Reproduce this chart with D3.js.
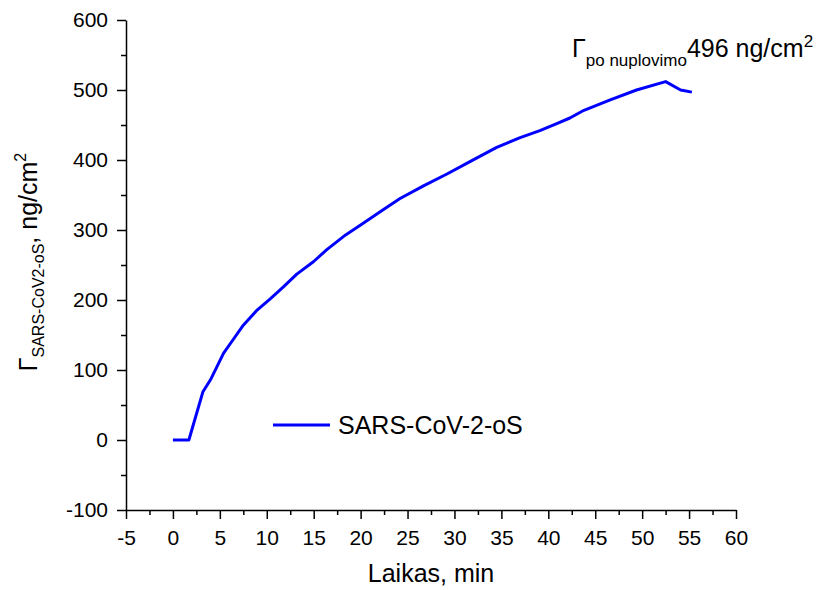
<!DOCTYPE html>
<html>
<head>
<meta charset="utf-8">
<script src="https://cdn.jsdelivr.net/npm/d3@7/dist/d3.min.js"></script>
<style>
  html, body { margin: 0; padding: 0; background: #fff; }
  svg { display: block; }
  text { font-family: "Liberation Sans", Arial, sans-serif; fill: #000; }
</style>
</head>
<body>
<svg id="chart" width="820" height="590"></svg>
<script>
// ---- data ----
const timeMin = [0, 1.7, 3.2, 4.0, 5.4, 6.5, 7.5, 9.0, 10.4, 11.8, 13.2, 15.0, 16.4, 18.4, 20.0, 22.4, 24.2, 26.7, 29.2, 31.7, 34.5, 37.0, 39.1, 40.9, 42.3, 43.8, 46.6, 49.4, 52.5, 54.1, 55.3];
const gammaValues = [0, 0, 69, 86, 124, 145, 164, 186, 202, 219, 237, 255, 272, 293, 307, 329, 345, 363, 380, 398, 418, 432, 442, 452, 460, 471, 486, 500, 512, 500, 497];
const xTicks = [-5, 0, 5, 10, 15, 20, 25, 30, 35, 40, 45, 50, 55, 60];
const yTicks = [-100, 0, 100, 200, 300, 400, 500, 600];
const xMinorTicks = [-2.5, 2.5, 7.5, 12.5, 17.5, 22.5, 27.5, 32.5, 37.5, 42.5, 47.5, 52.5, 57.5];
const yMinorTicks = [-50, 50, 150, 250, 350, 450, 550];
const seriesName = "SARS-CoV-2-oS";

(function () {
const svg = d3.select("#chart");
const mLeft = 126, mRight = 736, mTop = 20, mBottom = 510;

const x = d3.scaleLinear().domain([-5, 60]).range([mLeft, mRight]);
const y = d3.scaleLinear().domain([-100, 600]).range([mBottom, mTop]);

// minor ticks
svg.append("g")
  .attr("transform", `translate(0,${mBottom})`)
  .call(d3.axisBottom(x).tickValues(xMinorTicks).tickSize(5).tickFormat(""))
  .call(g => g.select(".domain").remove())
  .call(g => g.selectAll("line").attr("stroke-width", 1.5));
svg.append("g")
  .attr("transform", `translate(${mLeft},0)`)
  .call(d3.axisLeft(y).tickValues(yMinorTicks).tickSize(5).tickFormat(""))
  .call(g => g.select(".domain").remove())
  .call(g => g.selectAll("line").attr("stroke-width", 1.5));

// major axes
const gx = svg.append("g")
  .attr("transform", `translate(0,${mBottom})`)
  .call(d3.axisBottom(x).tickValues(xTicks).tickSize(9).tickSizeOuter(0).tickPadding(11).tickFormat(d3.format("d")));
const gy = svg.append("g")
  .attr("transform", `translate(${mLeft},0)`)
  .call(d3.axisLeft(y).tickValues(yTicks).tickSize(9).tickSizeOuter(0).tickPadding(9).tickFormat(d3.format("d")));
[gx, gy].forEach(g => {
  g.select(".domain").attr("stroke-width", 1.5);
  g.selectAll(".tick line").attr("stroke-width", 1.5);
  g.selectAll(".tick text").style("font-family", '"Liberation Sans", Arial, sans-serif').style("font-size", "21px");
});
gx.selectAll(".tick text").text(d => d < 0 ? "-" + Math.abs(d) : d);
gy.selectAll(".tick text").text(d => d < 0 ? "-" + Math.abs(d) : d);

// data line
const pts = timeMin.map((t, i) => [t, gammaValues[i]]);
svg.append("path")
  .datum(pts)
  .attr("fill", "none")
  .attr("stroke", "#0000ff")
  .attr("stroke-width", 3)
  .attr("stroke-linejoin", "round")
  .attr("d", d3.line().x(d => x(d[0])).y(d => y(d[1])));

// x axis title
svg.append("text")
  .attr("x", (mLeft + mRight) / 2).attr("y", 582)
  .attr("text-anchor", "middle")
  .style("font-size", "25px")
  .text("Laikas, min");

// y axis title
const yl = svg.append("text")
  .attr("transform", "translate(37,262) rotate(-90)")
  .attr("text-anchor", "middle")
  .style("font-size", "25px");
yl.append("tspan").text("Γ");
yl.append("tspan").attr("dy", 7).style("font-size", "16px").text("SARS-CoV2-oS");
yl.append("tspan").attr("dy", -7).text(", ng/cm");
yl.append("tspan").attr("dy", -11).style("font-size", "16px").text("2");

// annotation
const an = svg.append("text")
  .attr("x", 572).attr("y", 57)
  .style("font-size", "25px");
an.append("tspan").text("Γ");
an.append("tspan").attr("dy", 9).style("font-size", "17px").text("po nuplovimo");
an.append("tspan").attr("dy", -9).text("496 ng/cm");
an.append("tspan").attr("dy", -10).style("font-size", "17px").text("2");

// legend
svg.append("line")
  .attr("x1", 273).attr("x2", 330).attr("y1", 425).attr("y2", 425)
  .attr("stroke", "#0000ff").attr("stroke-width", 3);
svg.append("text")
  .attr("x", 338).attr("y", 434)
  .style("font-size", "25px")
  .text(seriesName);
})();
</script>
</body>
</html>
